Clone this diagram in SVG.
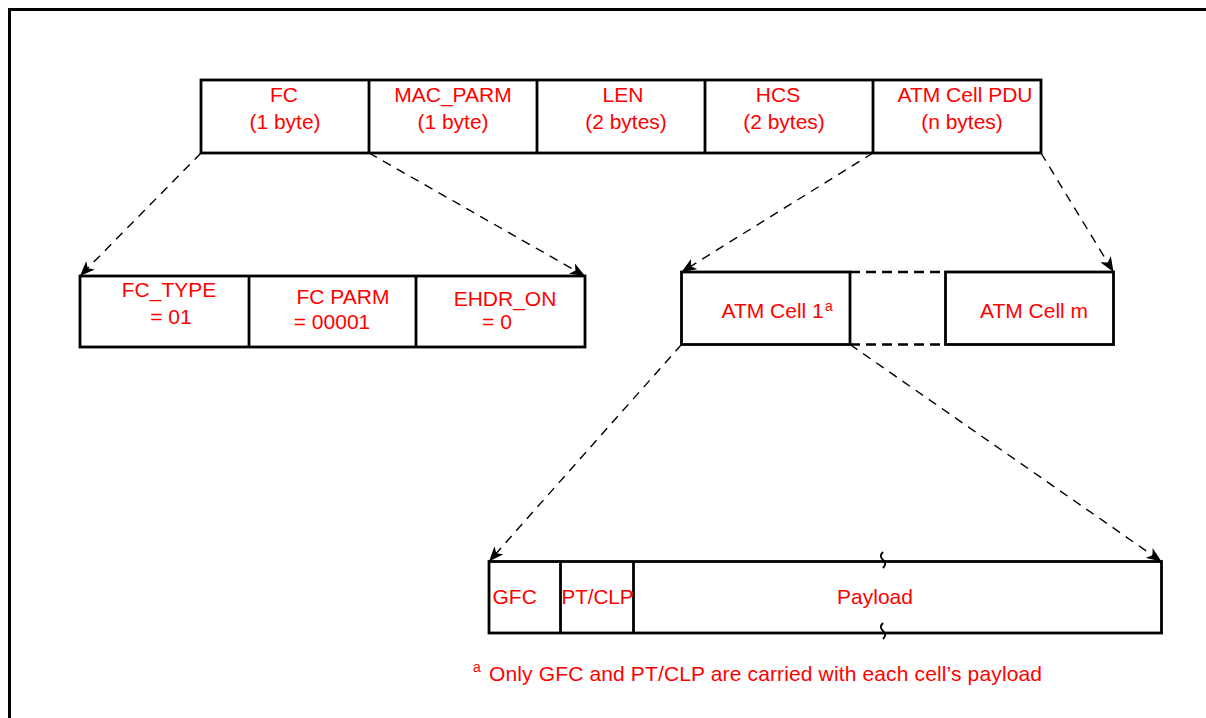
<svg xmlns="http://www.w3.org/2000/svg" width="1206" height="718" viewBox="0 0 1206 718">
<style>
.box{fill:#fff;stroke:#000;stroke-width:2.8}
.div{stroke:#000;stroke-width:2.8}
.t{font-family:"Liberation Sans",Arial,sans-serif;font-size:21px;fill:#ff0000}
.m{text-anchor:middle}
.sup{font-family:"Liberation Sans",Arial,sans-serif;font-size:14px;fill:#ff0000}
.conn{fill:none;stroke:#000;stroke-width:1.4;stroke-dasharray:9 7}
.gap{fill:none;stroke:#000;stroke-width:2.5;stroke-dasharray:10 6}
.brk{fill:none;stroke:#000;stroke-width:2}
</style>
<defs>
<marker id="ah" markerUnits="userSpaceOnUse" markerWidth="16" markerHeight="12" refX="15" refY="6" orient="auto">
<path d="M0,0 L15,6 L0,12 L4,6 Z" fill="#000"/>
</marker>
</defs>
<rect x="0" y="0" width="1206" height="718" fill="#fff"/>
<g id="frame">
<path d="M9.5,718 L9.5,9.5 L1206,9.5" fill="none" stroke="#000" stroke-width="3"/>
</g>
<g id="mac-header">
<rect class="box" x="201" y="80" width="840" height="73"/>
<line class="div" x1="369" y1="80" x2="369" y2="153"/>
<line class="div" x1="537" y1="80" x2="537" y2="153"/>
<line class="div" x1="705" y1="80" x2="705" y2="153"/>
<line class="div" x1="873" y1="80" x2="873" y2="153"/>
<text class="t m" x="284" y="102">FC</text>
<text class="t m" x="285" y="129">(1 byte)</text>
<text class="t m" x="453" y="102">MAC_PARM</text>
<text class="t m" x="453" y="129">(1 byte)</text>
<text class="t m" x="623" y="102">LEN</text>
<text class="t m" x="626" y="129">(2 bytes)</text>
<text class="t m" x="778" y="102">HCS</text>
<text class="t m" x="784" y="129">(2 bytes)</text>
<text class="t m" x="965" y="102">ATM Cell PDU</text>
<text class="t m" x="962" y="129">(n bytes)</text>
</g>
<g id="fc-fields">
<rect class="box" x="80" y="276" width="505" height="71"/>
<line class="div" x1="249" y1="276" x2="249" y2="347"/>
<line class="div" x1="416" y1="276" x2="416" y2="347"/>
<text class="t m" x="169" y="297">FC_TYPE</text>
<text class="t m" x="171" y="324">= 01</text>
<text class="t m" x="343" y="304">FC PARM</text>
<text class="t m" x="332" y="329">= 00001</text>
<text class="t m" x="505" y="306">EHDR_ON</text>
<text class="t m" x="497" y="329">= 0</text>
</g>
<g id="atm-cell-1">
<rect class="box" x="681.5" y="272" width="168.5" height="72.5"/>
<text class="t" x="721.5" y="318">ATM Cell 1</text>
<text class="sup" x="825" y="311">a</text>
</g>
<g id="atm-cell-m">
<rect class="box" x="945.5" y="272" width="168" height="72.5"/>
<text class="t" x="980" y="318">ATM Cell m</text>
</g>
<g id="cell-payload">
<rect class="box" x="489" y="561.5" width="672.5" height="71.5"/>
<line class="div" x1="560.5" y1="561.5" x2="560.5" y2="633"/>
<line class="div" x1="633.5" y1="561.5" x2="633.5" y2="633"/>
<text class="t" x="492.5" y="604">GFC</text>
<text class="t" x="561.5" y="604" textLength="72" lengthAdjust="spacingAndGlyphs">PT/CLP</text>
<text class="t m" x="875" y="604">Payload</text>
<path class="brk" d="M883,552 c-3,3 -3,5 0,8 c3,3 3,5 0,8"/>
<path class="brk" d="M883,623 c-3,3 -3,5 0,8 c3,3 3,5 0,8"/>
</g>
<g id="footnote">
<text class="sup" x="473" y="672">a</text>
<text class="t" x="489" y="681" textLength="553" lengthAdjust="spacing">Only GFC and PT/CLP are carried with each cell’s payload</text>
</g>
<g id="connectors">
<line class="conn" x1="201" y1="153" x2="80" y2="276" marker-end="url(#ah)"/>
<line class="conn" x1="369" y1="153" x2="585" y2="276" marker-end="url(#ah)"/>
<line class="conn" x1="873" y1="153" x2="681.5" y2="272" marker-end="url(#ah)"/>
<line class="conn" x1="1041" y1="153" x2="1113.5" y2="272" marker-end="url(#ah)"/>
<line class="conn" x1="681.5" y1="344.5" x2="489" y2="561.5" marker-end="url(#ah)"/>
<line class="conn" x1="850" y1="344.5" x2="1161.5" y2="561.5" marker-end="url(#ah)"/>
<line class="gap" x1="850" y1="272" x2="945.5" y2="272"/>
<line class="gap" x1="850" y1="344.5" x2="945.5" y2="344.5"/>
</g>
</svg>
